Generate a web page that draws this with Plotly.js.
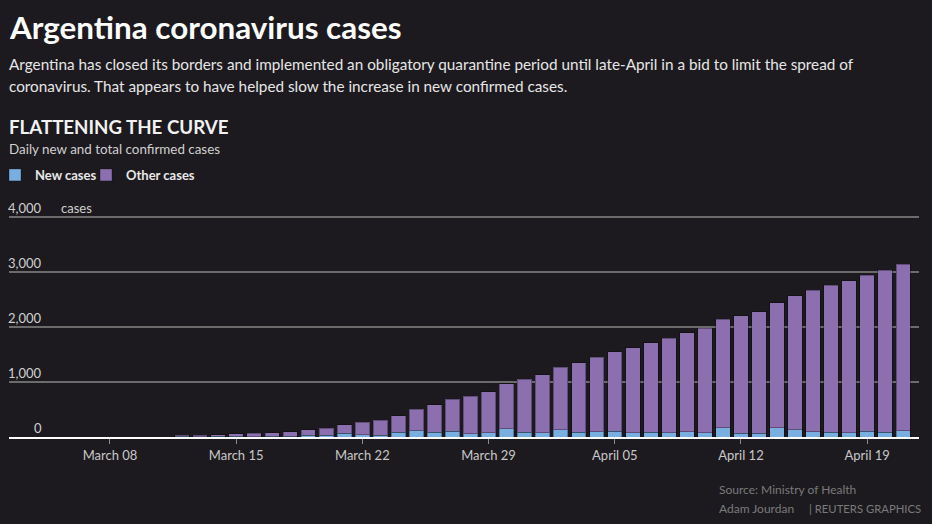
<!DOCTYPE html>
<html>
<head>
<meta charset="utf-8">
<script src="https://cdn.plot.ly/plotly-3.0.1.min.js"></script>
<style>
  html, body { margin: 0; padding: 0; background: #1c1a1e; }
  #chart { width: 932px; height: 524px; }
</style>
</head>
<body>
<div id="chart"></div>
<script>
// ---- Data ----
const dates = [
  '2020-03-12','2020-03-13','2020-03-14','2020-03-15','2020-03-16','2020-03-17','2020-03-18',
  '2020-03-19','2020-03-20','2020-03-21','2020-03-22','2020-03-23','2020-03-24','2020-03-25',
  '2020-03-26','2020-03-27','2020-03-28','2020-03-29','2020-03-30','2020-03-31','2020-04-01',
  '2020-04-02','2020-04-03','2020-04-04','2020-04-05','2020-04-06','2020-04-07','2020-04-08',
  '2020-04-09','2020-04-10','2020-04-11','2020-04-12','2020-04-13','2020-04-14','2020-04-15',
  '2020-04-16','2020-04-17','2020-04-18','2020-04-19','2020-04-20','2020-04-21'
];
const totalCases = [
  31, 34, 45, 56, 65, 79, 97,
  128, 158, 225, 266, 301, 387, 502,
  589, 690, 745, 820, 966, 1054, 1133,
  1265, 1353, 1451, 1554, 1628, 1715, 1795,
  1894, 1975, 2142, 2208, 2277, 2443, 2571,
  2669, 2758, 2839, 2941, 3031, 3144
];
const newCases = [
  12, 3, 11, 11, 9, 14, 18,
  31, 30, 67, 41, 35, 86, 115,
  87, 101, 55, 75, 146, 88, 79,
  132, 88, 98, 103, 74, 87, 80,
  99, 81, 167, 66, 69, 166, 128,
  98, 89, 81, 102, 90, 113
];
const otherCases = totalCases.map((t, i) => t - newCases[i]);
const seriesNames = ['New cases', 'Other cases'];
const yTickValues = [0, 1000, 2000, 3000, 4000];
const yTickLabels = ['0', '1,000', '2,000', '3,000', '4,000'];

// ---- Styling ----
const BG = '#1c1a1e';
const BLUE = '#78aee0';
const PURPLE = '#8b6fae';
const FONT = 'Lato, "Source Sans Pro", sans-serif';

// helper: pixel row -> paper y (plot spans 216..437)
const py = p => (437 - p) / 221;
const px = p => (p - 9) / 910;

const traces = [
  {
    type: 'bar', name: seriesNames[0], x: dates, y: newCases, legend: 'legend',
    marker: { color: BLUE, line: { color: 'rgba(0,0,0,0.3)', width: 1 } },
    hoverinfo: 'skip'
  },
  {
    type: 'bar', name: seriesNames[1], x: dates, y: otherCases, legend: 'legend2',
    marker: { color: PURPLE, line: { color: 'rgba(0,0,0,0.3)', width: 1 } },
    hoverinfo: 'skip'
  }
];

const annotations = [
  { text: 'Argentina coronavirus cases', x: 0, y: py(27), xshift: -2,
    font: { size: 31.4, color: '#ffffff', family: FONT, weight: 700 } },
  { text: 'Argentina has closed its borders and implemented an obligatory quarantine period until late-April in a bid to limit the spread of',
    x: 0, y: py(64), xshift: -2, font: { size: 15.3, color: '#e6e6e6', family: FONT } },
  { text: 'coronavirus. That appears to have helped slow the increase in new confirmed cases.',
    x: 0, y: py(86), xshift: -2, font: { size: 15.3, color: '#e6e6e6', family: FONT } },
  { text: 'FLATTENING THE CURVE', x: 0, y: py(127), xshift: -2,
    font: { size: 18.7, color: '#f2f2f2', family: FONT, weight: 700 } },
  { text: 'Daily new and total confirmed cases', x: 0, y: py(149), xshift: -2,
    font: { size: 13.4, color: '#d0d0d0', family: FONT } },
  { text: 'Source: Ministry of Health', x: px(719), y: py(489), xshift: -2,
    font: { size: 12, color: '#7a7a7a', family: FONT } },
  { text: 'Adam Jourdan', x: px(719), y: py(508), xshift: -2,
    font: { size: 12, color: '#7a7a7a', family: FONT } },
  { text: '| REUTERS GRAPHICS', x: px(809), y: py(508), xshift: -2,
    font: { size: 11.3, color: '#7a7a7a', family: FONT } },
  { text: 'cases', xref: 'paper', yref: 'y', x: 0, y: 4000, xshift: 50, yshift: 9,
    xanchor: 'left', font: { size: 13, color: '#d0d0d0', family: FONT } }
].map(a => Object.assign({ xref: 'paper', yref: 'paper', xanchor: 'left', yanchor: 'middle', showarrow: false }, a));

yTickValues.forEach((v, i) => {
  annotations.push({
    text: yTickLabels[i], xref: 'paper', yref: 'y', x: 0, y: v, xanchor: 'right', yanchor: 'middle',
    xshift: 35, yshift: 9, showarrow: false, font: { size: 13, color: '#d0d0d0', family: FONT }
  });
});

const legendBase = {
  orientation: 'h', xref: 'container', yref: 'container', xanchor: 'left',
  y: 1 - 175 / 524, yanchor: 'middle', indentation: -5,
  bgcolor: 'rgba(0,0,0,0)', borderwidth: 0,
  font: { size: 13, color: '#e8e8e8', family: FONT, weight: 700 }
};

const layout = {
  width: 932, height: 524,
  paper_bgcolor: BG, plot_bgcolor: BG,
  margin: { l: 9, r: 13, t: 216, b: 87, autoexpand: false },
  barmode: 'stack', bargap: 0.2,
  showlegend: true,
  legend: Object.assign({}, legendBase, { x: 0 }),
  legend2: Object.assign({}, legendBase, { x: 91 / 932 }),
  xaxis: {
    type: 'date', range: ['2020-03-02 09:36', '2020-04-21 21:00'],
    tick0: '2020-03-08', dtick: 7 * 86400000, tickformat: '%B %d',
    ticks: 'outside', ticklen: 5, tickwidth: 1, tickcolor: '#8a8a8a',
    tickfont: { size: 13, color: '#c8c8c8', family: FONT },
    showgrid: false, showline: true, linecolor: '#ffffff', linewidth: 2,
    zeroline: false, fixedrange: true
  },
  yaxis: {
    range: [0, 4020], tickvals: yTickValues, showticklabels: false,
    showgrid: true, gridcolor: '#6b6b6b', gridwidth: 1.5,
    zeroline: false, showline: false, fixedrange: true
  },
  annotations: annotations,
  hovermode: false
};

Plotly.newPlot('chart', traces, layout, { displayModeBar: false, staticPlot: true });
</script>
</body>
</html>
